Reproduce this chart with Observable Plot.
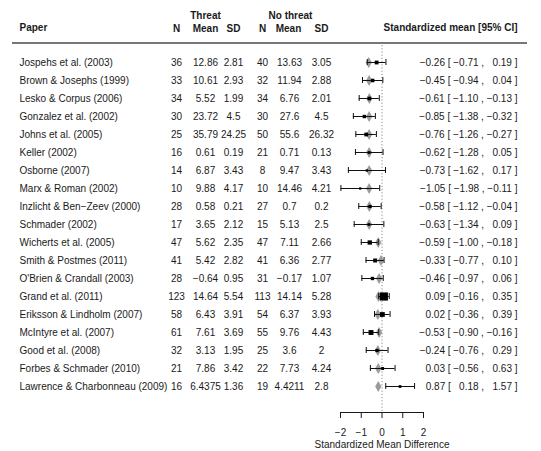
<!DOCTYPE html>
<html>
<head>
<meta charset="utf-8">
<script src="https://cdn.jsdelivr.net/npm/d3@7"></script>
<script src="https://cdn.jsdelivr.net/npm/@observablehq/plot@0.6"></script>
<style>
  body { margin: 0; background: #fff; }
  #chart svg { display: block; }
  #chart svg text { white-space: pre; }
</style>
</head>
<body>
<div id="chart"></div>
<script>
// table columns
const papers = [
  "Jospehs et al. (2003)", "Brown & Josephs (1999)", "Lesko & Corpus (2006)",
  "Gonzalez et al. (2002)", "Johns et al. (2005)", "Keller (2002)", "Osborne (2007)",
  "Marx & Roman (2002)", "Inzlicht & Ben\u2212Zeev (2000)", "Schmader (2002)",
  "Wicherts et al. (2005)", "Smith & Postmes (2011)", "O'Brien & Crandall (2003)",
  "Grand et al. (2011)", "Eriksson & Lindholm (2007)", "McIntyre et al. (2007)",
  "Good et al. (2008)", "Forbes & Schmader (2010)", "Lawrence & Charbonneau (2009)"
];
const nThreat = [36, 33, 34, 30, 25, 16, 14, 10, 28, 17, 47, 41, 28, 123, 58, 61, 32, 21, 16];
const meanThreat = [12.86, 10.61, 5.52, 23.72, 35.79, 0.61, 6.87, 9.88, 0.58, 3.65, 5.62, 5.42, -0.64, 14.64, 6.43, 7.61, 3.13, 7.86, 6.4375];
const sdThreat = [2.81, 2.93, 1.99, 4.5, 24.25, 0.19, 3.43, 4.17, 0.21, 2.12, 2.35, 2.82, 0.95, 5.54, 3.91, 3.69, 1.95, 3.42, 1.36];
const nNo = [40, 32, 34, 30, 50, 21, 8, 10, 27, 15, 47, 41, 31, 113, 54, 55, 25, 22, 19];
const meanNo = [13.63, 11.94, 6.76, 27.6, 55.6, 0.71, 9.47, 14.46, 0.7, 5.13, 7.11, 6.36, -0.17, 14.14, 6.37, 9.76, 3.6, 7.73, 4.4211];
const sdNo = [3.05, 2.88, 2.01, 4.5, 26.32, 0.13, 3.43, 4.21, 0.2, 2.5, 2.66, 2.77, 1.07, 5.28, 3.93, 4.43, 2, 4.24, 2.8];

// effect sizes
const smd = [-0.26, -0.45, -0.61, -0.85, -0.76, -0.62, -0.73, -1.05, -0.58, -0.63, -0.59, -0.33, -0.46, 0.09, 0.02, -0.53, -0.24, 0.03, 0.87];
const ciLo = [-0.71, -0.94, -1.10, -1.38, -1.26, -1.28, -1.62, -1.98, -1.12, -1.34, -1.00, -0.77, -0.97, -0.16, -0.36, -0.90, -0.76, -0.56, 0.18];
const ciHi = [0.19, 0.04, -0.13, -0.32, -0.27, 0.05, 0.17, -0.11, -0.04, 0.09, -0.18, 0.10, 0.06, 0.35, 0.39, -0.16, 0.29, 0.63, 1.57];
// grey diamonds (estimates)
const adjusted = [-0.64, -0.62, -0.61, -0.62, -0.62, -0.62, -0.62, -0.62, -0.61, -0.62, -0.18, -0.05, -0.14, -0.17, -0.2, -0.14, -0.2, -0.18, -0.18];
const xTicks = [-2, -1, 0, 1, 2];

const minus = v => String(v).replace("-", "\u2212");
const slot = v => (v < 0 ? "\u2212" : "  ") + Math.abs(v).toFixed(2);

const rows = papers.map((p, i) => ({
  paper: p,
  nt: nThreat[i], mt: meanThreat[i], st: sdThreat[i],
  nc: nNo[i], mc: meanNo[i], sc: sdNo[i],
  est: smd[i], lo: ciLo[i], hi: ciHi[i], adj: adjusted[i],
  ntot: nThreat[i] + nNo[i],
  ci: `${minus(smd[i].toFixed(2))} [ ${slot(ciLo[i])} , ${slot(ciHi[i])} ]`
}));

const mLeft = 340, mRight = 118, mTop = 45;

// table column helper: centred text at a pixel column, offset from the frame's left edge
const col = (field, cx) => Plot.text(rows, {
  y: "paper", text: d => minus(d[field]), frameAnchor: "left", dx: cx - mLeft, textAnchor: "middle"
});
const head = (label, cx, cy, anchor = "middle") => Plot.text([label], {
  frameAnchor: "top-left", dx: cx - mLeft, dy: cy - mTop, textAnchor: anchor,
  lineAnchor: "middle", fontWeight: "bold"
});

let chart = Plot.plot({
  width: 541,
  height: 451,
  marginLeft: mLeft,
  marginRight: mRight,
  marginTop: mTop,
  marginBottom: 39,
  style: {fontFamily: "'Liberation Sans', Arial, sans-serif", fontSize: "10px", color: "#1a1a1a", background: "#fff"},
  x: {domain: [-2, 2], ticks: xTicks, tickFormat: d => minus(d), tickSize: 6, tickPadding: 10, line: true, label: null},
  y: {domain: papers, range: [52, 395], padding: 0, axis: null},
  r: {type: "linear", domain: [20, 236], range: [1.3, 4.6]},
  marks: [
    Plot.ruleX([0], {stroke: "#8a8a8a", strokeDasharray: "1.2,2"}),
    Plot.dot(rows, {x: "adj", y: "paper", symbol: "diamond", fill: "#9b9b9b", r: 3.3}),
    Plot.ruleY(rows, {y: "paper", x1: "lo", x2: "hi", stroke: "#111", strokeWidth: 1}),
    Plot.tickX(rows, {x: "lo", y: "paper", stroke: "#111", insetTop: 6, insetBottom: 6}),
    Plot.tickX(rows, {x: "hi", y: "paper", stroke: "#111", insetTop: 6, insetBottom: 6}),
    Plot.dot(rows, {x: "est", y: "paper", symbol: "square", fill: "#000", r: "ntot"}),

    // table body
    Plot.text(rows, {y: "paper", text: "paper", frameAnchor: "left", dx: 19 - mLeft, textAnchor: "start"}),
    col("nt", 176), col("mt", 205), col("st", 233),
    col("nc", 262), col("mc", 289), col("sc", 321),
    Plot.text(rows, {y: "paper", text: "ci", frameAnchor: "right", dx: 517 - (541 - mRight), textAnchor: "end"}),

    // header
    head("Paper", 19, 27, "start"),
    head("Threat", 205, 15),
    head("N", 176, 28), head("Mean", 205, 28), head("SD", 233, 28),
    head("No threat", 290, 15),
    head("N", 262, 28), head("Mean", 288, 28), head("SD", 321, 28),
    Plot.text(["Standardized mean [95% CI]"], {
      frameAnchor: "top-right", dx: 517 - (541 - mRight), dy: 27 - mTop,
      textAnchor: "end", lineAnchor: "middle", fontWeight: "bold"
    }),

    // axis title
    Plot.text(["Standardized Mean Difference"], {frameAnchor: "bottom", dy: 32, lineAnchor: "middle"})
  ]
});

d3.select(chart).append("line")
  .attr("x1", 12).attr("x2", 527).attr("y1", 43).attr("y2", 43)
  .attr("stroke", "#4a4a4a").attr("stroke-width", 1.5);

d3.select("#chart").append(() => chart);
</script>
</body>
</html>
